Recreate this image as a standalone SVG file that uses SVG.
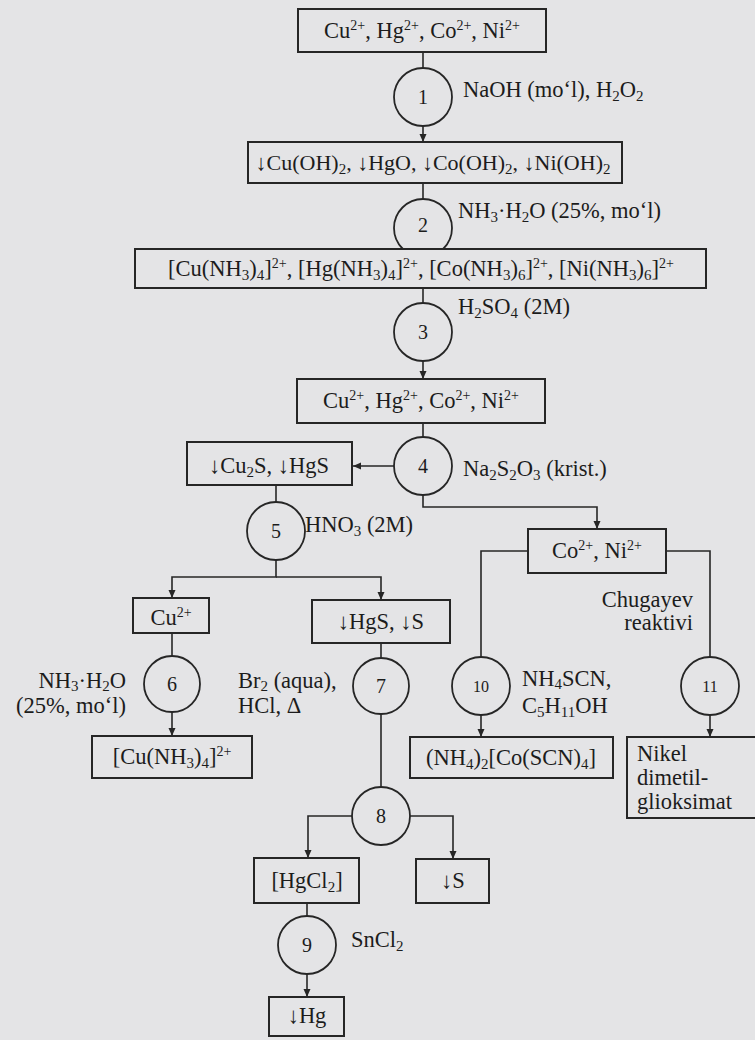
<svg xmlns="http://www.w3.org/2000/svg" width="755" height="1040" viewBox="0 0 755 1040">
  <defs>
    <marker id="ah" markerUnits="userSpaceOnUse" markerWidth="9" markerHeight="8" refX="8" refY="3.5" orient="auto">
      <path d="M0,0 L8,3.5 L0,7 z" fill="#262626"/>
    </marker>
    <style>
      .bg { fill: #e4e4e6; }
      .box { fill: #e4e4e6; stroke: #262626; stroke-width: 2; }
      .ring { fill: #e4e4e6; stroke: #262626; stroke-width: 1.8; }
      .ln { fill: none; stroke: #262626; stroke-width: 1.6; }
      .arr { fill: none; stroke: #262626; stroke-width: 1.6; marker-end: url(#ah); }
      .t { font-family: "Liberation Serif", "Times New Roman", serif; font-size: 22.5px; fill: #1c1c1c; }
      .m { text-anchor: middle; }
      .e { text-anchor: end; }
      .n { font-family: "Liberation Serif", "Times New Roman", serif; font-size: 20px; fill: #1c1c1c; text-anchor: middle; }
      .n2 { font-size: 16px; }
      .sb { font-size: 15px; }
      .sp { font-size: 14px; }
    </style>
  </defs>

  <rect class="bg" x="0" y="0" width="755" height="1040"/>

  <!-- connectors -->
  <g id="connectors">
    <path class="ln" d="M423,52 V68"/>
    <path class="arr" d="M423,126 V142"/>
    <path class="ln" d="M423,183 V199"/>
    <path class="arr" d="M423,236 V249"/>
    <path class="ln" d="M423,288 V303"/>
    <path class="arr" d="M423,361 V379"/>
    <path class="ln" d="M423,423 V437"/>
    <path class="arr" d="M394,466 H353"/>
    <path class="arr" d="M423,495 V507 H597 V529"/>
    <path class="ln" d="M276,485 V502"/>
    <path class="arr" d="M276,560 V577 H172 V598"/>
    <path class="arr" d="M276,577 H381 V600"/>
    <path class="ln" d="M172,633 V656"/>
    <path class="arr" d="M172,712 V736"/>
    <path class="ln" d="M381,643 V658"/>
    <path class="ln" d="M381,714 V787"/>
    <path class="arr" d="M352,816 H308 V858"/>
    <path class="arr" d="M410,816 H453 V859"/>
    <path class="ln" d="M307,903 V916"/>
    <path class="arr" d="M307,974 V997"/>
    <path class="ln" d="M528,551 H481 V657"/>
    <path class="ln" d="M666,551 H710 V657"/>
    <path class="arr" d="M481,715 V737"/>
    <path class="arr" d="M710,715 V737"/>
  </g>

  <!-- main column -->
  <g id="n-start">
    <rect class="box" x="298" y="9" width="248" height="43"/>
    <text class="t m" x="422" y="38">Cu<tspan class="sp" dy="-8">2+</tspan><tspan dy="8">, Hg</tspan><tspan class="sp" dy="-8">2+</tspan><tspan dy="8">, Co</tspan><tspan class="sp" dy="-8">2+</tspan><tspan dy="8">, Ni</tspan><tspan class="sp" dy="-8">2+</tspan></text>
  </g>

  <g id="s1">
    <circle class="ring" cx="423" cy="97" r="29"/>
    <text class="n" x="423" y="104">1</text>
    <text class="t" x="463" y="97">NaOH (mo‘l), H<tspan class="sb" dy="4">2</tspan><tspan dy="-4">O</tspan><tspan class="sb" dy="4">2</tspan></text>
  </g>

  <g id="n-hydroxides">
    <rect class="box" x="248" y="142" width="374" height="41"/>
    <text class="t m" x="433" y="170" style="font-size:22px">↓Cu(OH)<tspan class="sb" dy="4">2</tspan><tspan dy="-4">, ↓HgO, ↓Co(OH)</tspan><tspan class="sb" dy="4">2</tspan><tspan dy="-4">, ↓Ni(OH)</tspan><tspan class="sb" dy="4">2</tspan></text>
  </g>

  <g id="s2">
    <circle class="ring" cx="423" cy="228" r="29"/>
    <text class="n" x="423" y="232">2</text>
    <text class="t" x="458" y="218">NH<tspan class="sb" dy="4">3</tspan><tspan dy="-4">·H</tspan><tspan class="sb" dy="4">2</tspan><tspan dy="-4">O (25%, mo‘l)</tspan></text>
  </g>

  <g id="n-ammines">
    <rect class="box" x="135" y="249" width="571" height="39"/>
    <text class="t m" x="421" y="276">[Cu(NH<tspan class="sb" dy="4">3</tspan><tspan dy="-4">)</tspan><tspan class="sb" dy="4">4</tspan><tspan dy="-4">]</tspan><tspan class="sp" dy="-8">2+</tspan><tspan dy="8">, [Hg(NH</tspan><tspan class="sb" dy="4">3</tspan><tspan dy="-4">)</tspan><tspan class="sb" dy="4">4</tspan><tspan dy="-4">]</tspan><tspan class="sp" dy="-8">2+</tspan><tspan dy="8">, [Co(NH</tspan><tspan class="sb" dy="4">3</tspan><tspan dy="-4">)</tspan><tspan class="sb" dy="4">6</tspan><tspan dy="-4">]</tspan><tspan class="sp" dy="-8">2+</tspan><tspan dy="8">, [Ni(NH</tspan><tspan class="sb" dy="4">3</tspan><tspan dy="-4">)</tspan><tspan class="sb" dy="4">6</tspan><tspan dy="-4">]</tspan><tspan class="sp" dy="-8">2+</tspan></text>
  </g>

  <g id="s3">
    <circle class="ring" cx="423" cy="332" r="29"/>
    <text class="n" x="423" y="339">3</text>
    <text class="t" x="458" y="314">H<tspan class="sb" dy="4">2</tspan><tspan dy="-4">SO</tspan><tspan class="sb" dy="4">4</tspan><tspan dy="-4"> (2M)</tspan></text>
  </g>

  <g id="n-ions">
    <rect class="box" x="297" y="379" width="248" height="44"/>
    <text class="t m" x="421" y="408">Cu<tspan class="sp" dy="-8">2+</tspan><tspan dy="8">, Hg</tspan><tspan class="sp" dy="-8">2+</tspan><tspan dy="8">, Co</tspan><tspan class="sp" dy="-8">2+</tspan><tspan dy="8">, Ni</tspan><tspan class="sp" dy="-8">2+</tspan></text>
  </g>

  <g id="s4">
    <circle class="ring" cx="423" cy="466" r="29"/>
    <text class="n" x="423" y="473">4</text>
    <text class="t" x="463" y="476">Na<tspan class="sb" dy="4">2</tspan><tspan dy="-4">S</tspan><tspan class="sb" dy="4">2</tspan><tspan dy="-4">O</tspan><tspan class="sb" dy="4">3</tspan><tspan dy="-4"> (krist.)</tspan></text>
  </g>

  <!-- sulfide branch -->
  <g id="n-sulfides">
    <rect class="box" x="187" y="442" width="165" height="43"/>
    <text class="t m" x="269" y="473">↓Cu<tspan class="sb" dy="4">2</tspan><tspan dy="-4">S, ↓HgS</tspan></text>
  </g>

  <g id="s5">
    <circle class="ring" cx="276" cy="531" r="29"/>
    <text class="n" x="276" y="538">5</text>
    <text class="t" x="305" y="532">HNO<tspan class="sb" dy="4">3</tspan><tspan dy="-4"> (2M)</tspan></text>
  </g>

  <g id="n-cu">
    <rect class="box" x="133" y="598" width="76" height="35"/>
    <text class="t m" x="171" y="625">Cu<tspan class="sp" dy="-8">2+</tspan></text>
  </g>

  <g id="n-hgs-s">
    <rect class="box" x="312" y="600" width="138" height="43"/>
    <text class="t m" x="381" y="629">↓HgS, ↓S</text>
  </g>

  <g id="s6">
    <circle class="ring" cx="172" cy="684" r="28"/>
    <text class="n" x="172" y="691">6</text>
    <text class="t e" x="126" y="688">NH<tspan class="sb" dy="3">3</tspan><tspan dy="-3">·H</tspan><tspan class="sb" dy="3">2</tspan><tspan dy="-3">O</tspan></text>
    <text class="t e" x="126" y="713">(25%, mo‘l)</text>
  </g>

  <g id="n-cu-ammine">
    <rect class="box" x="92" y="736" width="160" height="42"/>
    <text class="t m" x="172" y="764">[Cu(NH<tspan class="sb" dy="4">3</tspan><tspan dy="-4">)</tspan><tspan class="sb" dy="4">4</tspan><tspan dy="-4">]</tspan><tspan class="sp" dy="-8">2+</tspan></text>
  </g>

  <g id="s7">
    <circle class="ring" cx="381" cy="686" r="28"/>
    <text class="n" x="381" y="693">7</text>
    <text class="t" x="238" y="688">Br<tspan class="sb" dy="3">2</tspan><tspan dy="-3"> (aqua),</tspan></text>
    <text class="t" x="238" y="713">HCl, Δ</text>
  </g>

  <g id="s8">
    <circle class="ring" cx="381" cy="816" r="29"/>
    <text class="n" x="381" y="823">8</text>
  </g>

  <g id="n-hgcl2">
    <rect class="box" x="254" y="858" width="105" height="45"/>
    <text class="t m" x="307" y="888">[HgCl<tspan class="sb" dy="4">2</tspan><tspan dy="-4">]</tspan></text>
  </g>

  <g id="n-s">
    <rect class="box" x="416" y="859" width="73" height="44"/>
    <text class="t m" x="453" y="888">↓S</text>
  </g>

  <g id="s9">
    <circle class="ring" cx="307" cy="945" r="29"/>
    <text class="n" x="307" y="952">9</text>
    <text class="t" x="351" y="947">SnCl<tspan class="sb" dy="4">2</tspan></text>
  </g>

  <g id="n-hg">
    <rect class="box" x="269" y="997" width="75" height="39"/>
    <text class="t m" x="307" y="1023">↓Hg</text>
  </g>

  <!-- cobalt / nickel branch -->
  <g id="n-co-ni">
    <rect class="box" x="528" y="529" width="138" height="44"/>
    <text class="t m" x="597" y="558">Co<tspan class="sp" dy="-8">2+</tspan><tspan dy="8">, Ni</tspan><tspan class="sp" dy="-8">2+</tspan></text>
  </g>

  <g id="s10">
    <circle class="ring" cx="481" cy="686" r="29"/>
    <text class="n n2" x="481" y="692">10</text>
    <text class="t" x="522" y="686">NH<tspan class="sb" dy="3">4</tspan><tspan dy="-3">SCN,</tspan></text>
    <text class="t" x="522" y="713">C<tspan class="sb" dy="4">5</tspan><tspan dy="-4">H</tspan><tspan class="sb" dy="4">11</tspan><tspan dy="-4">OH</tspan></text>
  </g>

  <g id="n-co-thiocyanate">
    <rect class="box" x="410" y="737" width="203" height="41"/>
    <text class="t m" x="511" y="765">(NH<tspan class="sb" dy="4">4</tspan><tspan dy="-4">)</tspan><tspan class="sb" dy="4">2</tspan><tspan dy="-4">[Co(SCN)</tspan><tspan class="sb" dy="4">4</tspan><tspan dy="-4">]</tspan></text>
  </g>

  <g id="s11">
    <circle class="ring" cx="710" cy="686" r="29"/>
    <text class="n n2" x="710" y="692">11</text>
    <text class="t e" x="693" y="607">Chugayev</text>
    <text class="t e" x="693" y="630">reaktivi</text>
  </g>

  <g id="n-ni-dmg">
    <rect class="box" x="627" y="737" width="140" height="81"/>
    <text class="t" x="637" y="761">Nikel</text>
    <text class="t" x="637" y="785">dimetil-</text>
    <text class="t" x="637" y="809">glioksimat</text>
  </g>
</svg>
